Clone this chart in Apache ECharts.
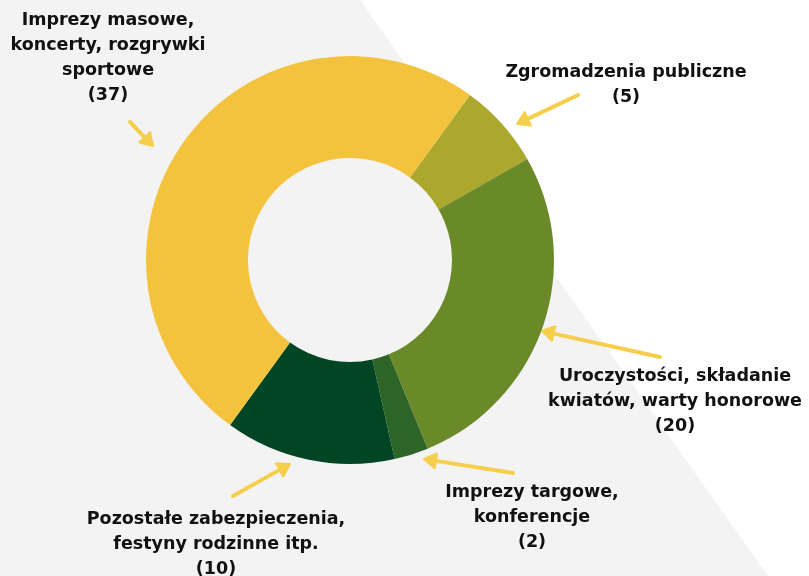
<html>
  <head>
    <meta charset="utf-8" />
    <script src="https://cdn.jsdelivr.net/npm/echarts@6/dist/echarts.min.js"></script>
  </head>
  <body>
    <style>
      html,
      body,
      #main {
        width: 100%;
        height: 100%;
        margin: 0;
      }
    </style>
    <div id="main"></div>
    <script>
      var chart = echarts.init(document.getElementById('main'));

      // categories, clockwise starting from the small olive slice at the top right
      var categories = [
        'Zgromadzenia publiczne',
        'Uroczystości, składanie\nkwiatów, warty honorowe',
        'Imprezy targowe,\nkonferencje',
        'Pozostałe zabezpieczenia,\nfestyny rodzinne itp.',
        'Imprezy masowe,\nkoncerty, rozgrywki\nsportowe'
      ];
      var counts = [5, 20, 2, 10, 37];
      var colors = ['#aca82d', '#6a8a29', '#2e6428', '#014624', '#f4c33d'];

      // label anchor (top centre of text block) and arrow tail -> head
      var labelPos = [
        [626, 60],
        [675, 364],
        [532, 480],
        [216, 507],
        [108, 8]
      ];
      var arrows = [
        [578, 95, 517, 124],
        [660, 357, 542, 331],
        [513, 473, 424, 459],
        [233, 496, 290, 464],
        [130, 122, 153, 146]
      ];

      function arrow(a) {
        var x1 = a[0], y1 = a[1], x2 = a[2], y2 = a[3];
        var ang = Math.atan2(y2 - y1, x2 - x1);
        var len = 12, w = 7.5;
        var bx = x2 - len * Math.cos(ang), by = y2 - len * Math.sin(ang);
        var nx = -Math.sin(ang) * w, ny = Math.cos(ang) * w;
        return {
          type: 'group',
          z: 10,
          children: [
            {
              type: 'line',
              shape: { x1: x1, y1: y1, x2: bx, y2: by },
              style: { stroke: '#f5cf4b', lineWidth: 4, lineCap: 'round' }
            },
            {
              type: 'polygon',
              shape: { points: [[x2, y2], [bx + nx, by + ny], [bx - nx, by - ny]] },
              style: { fill: '#f5cf4b', stroke: '#f5cf4b', lineWidth: 2, lineJoin: 'round' }
            }
          ]
        };
      }

      var data = categories.map(function (c, i) {
        return { name: c, value: counts[i], itemStyle: { color: colors[i] } };
      });

      var option = {
        backgroundColor: '#f3f3f3',
        animation: false,
        graphic: [
          {
            type: 'polygon',
            z: -10,
            silent: true,
            shape: { points: [[360, 0], [809, 0], [809, 576], [768, 576]] },
            style: { fill: '#ffffff' }
          }
        ].concat(arrows.map(arrow)),
        series: [
          {
            type: 'pie',
            center: [350, 260],
            radius: [102, 204],
            startAngle: 54,
            clockwise: true,
            silent: true,
            data: data,
            label: {
              show: true,
              position: 'outside',
              formatter: '{b}\n({c})',
              fontFamily: 'DejaVu Sans',
              fontWeight: 'bold',
              fontSize: 17.5,
              lineHeight: 25,
              color: '#111111',
              align: 'center',
              overflow: 'none'
            },
            labelLine: { show: false },
            labelLayout: function (params) {
              var p = labelPos[params.dataIndex];
              return { x: p[0], y: p[1], align: 'center', verticalAlign: 'top', width: 400 };
            }
          }
        ]
      };

      chart.setOption(option);

      window.onresize = function () {
        chart.resize();
      };
    </script>
  </body>
</html>
